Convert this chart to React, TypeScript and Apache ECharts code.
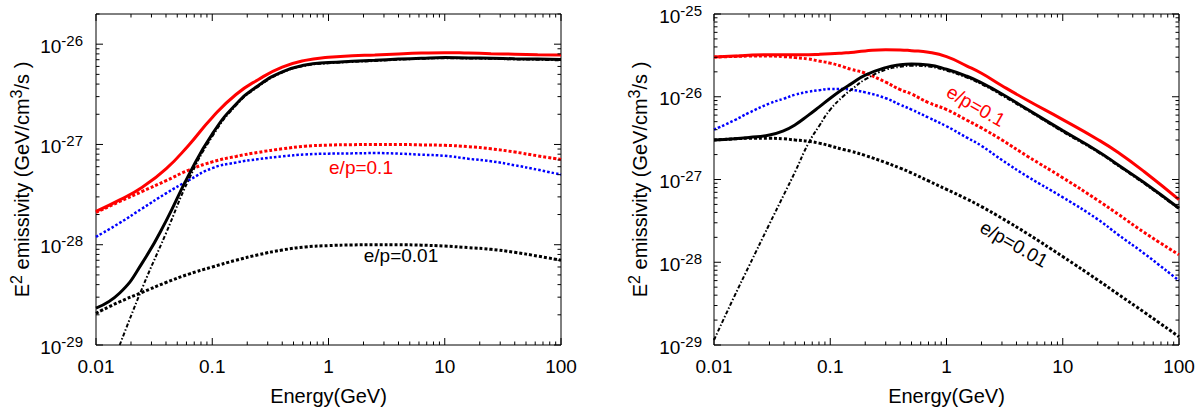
import React, { useEffect, useRef } from 'react';
import * as echarts from 'echarts';

const FONT = "'Liberation Sans', Arial, Helvetica, sans-serif";

// ---------- Tick labels ----------
const X_TICK_LABELS = ['0.01', '0.1', '1', '10', '100'];
const X_MIN = 0.01;
const X_MAX = 100;
const Y_MIN = 1e-29;
const Y_MAX_LEFT = 2e-26;
const Y_MAX_RIGHT = 1e-25;
// values are plotted in units of 1e-29 (the library rounds very small numbers)
const Y_UNIT_EXP = -29;
const Y_UNIT = 1e-29;

// ---------- Left panel data ----------
const E_L = [0.01, 0.016, 0.025, 0.04, 0.063, 0.1, 0.16, 0.25, 0.4, 0.63, 1, 1.6, 2.5, 4, 6.3, 10, 16, 25, 40, 63, 100];
const L_DOT_001 = [2.07e-29, 2.7e-29, 3.35e-29, 4.2e-29, 5.1e-29, 6.0e-29, 7.0e-29, 7.95e-29, 8.85e-29, 9.5e-29, 9.8e-29, 9.95e-29, 1.0e-28, 1.0e-28, 9.9e-29, 9.7e-29, 9.35e-29, 9.0e-29, 8.4e-29, 7.7e-29, 7.0e-29];
const L_DOT_01 = [2.1e-28, 2.7e-28, 3.4e-28, 4.35e-28, 5.55e-28, 6.7e-28, 7.6e-28, 8.35e-28, 9.05e-28, 9.6e-28, 9.85e-28, 9.95e-28, 1.0e-27, 1.0e-27, 9.9e-28, 9.8e-28, 9.5e-28, 9.05e-28, 8.4e-28, 7.7e-28, 7.1e-28];
const L_BLUE = [1.2e-28, 1.65e-28, 2.3e-28, 3.25e-28, 4.4e-28, 5.8e-28, 6.6e-28, 7.15e-28, 7.6e-28, 7.95e-28, 8.1e-28, 8.15e-28, 8.2e-28, 8.1e-28, 7.9e-28, 7.7e-28, 7.2e-28, 6.8e-28, 6.2e-28, 5.6e-28, 5.0e-28];
const E_L_PION = [0.016, 0.025, 0.04, 0.063, 0.1, 0.16, 0.25, 0.4, 0.63, 1, 1.6, 2.5, 4, 6.3, 10, 16, 25, 40, 63, 100];
const L_PION = [1.0e-29, 3.7e-29, 1.3e-28, 4.5e-28, 1.2e-27, 2.45e-27, 3.8e-27, 5.2e-27, 6.1e-27, 6.45e-27, 6.65e-27, 6.8e-27, 7.0e-27, 7.15e-27, 7.25e-27, 7.2e-27, 7.15e-27, 7.05e-27, 7.0e-27, 6.9e-27];
const L_TOT_001 = [2.33e-29, 3.3e-29, 6.6e-29, 1.72e-28, 5.0e-28, 1.27e-27, 2.52e-27, 3.88e-27, 5.3e-27, 6.2e-27, 6.55e-27, 6.75e-27, 6.9e-27, 7.1e-27, 7.25e-27, 7.35e-27, 7.3e-27, 7.25e-27, 7.15e-27, 7.1e-27, 7.05e-27];
const L_TOT_01 = [2.15e-28, 2.8e-28, 3.75e-28, 5.7e-28, 9.9e-28, 1.86e-27, 3.15e-27, 4.45e-27, 5.9e-27, 6.9e-27, 7.4e-27, 7.65e-27, 7.8e-27, 8.0e-27, 8.15e-27, 8.23e-27, 8.15e-27, 8.05e-27, 7.95e-27, 7.85e-27, 7.8e-27];

// ---------- Right panel data ----------
const E_R = [0.01, 0.015, 0.02, 0.03, 0.04, 0.05, 0.065, 0.08, 0.1, 0.13, 0.15, 0.2, 0.3, 0.4, 0.5, 0.7, 1, 1.5, 2, 3, 5, 10, 20, 30, 50, 100];
const R_DOT_001 = [3.0e-27, 3.1e-27, 3.15e-27, 3.15e-27, 3.1e-27, 3.0e-27, 2.9e-27, 2.75e-27, 2.55e-27, 2.3e-27, 2.2e-27, 1.95e-27, 1.6e-27, 1.37e-27, 1.2e-27, 9.6e-28, 7.6e-28, 5.8e-28, 4.7e-28, 3.4e-28, 2.2e-28, 1.17e-28, 6.1e-29, 4.1e-29, 2.5e-29, 1.26e-29];
const R_DOT_01 = [3.02e-26, 3.07e-26, 3.1e-26, 3.1e-26, 3.05e-26, 2.97e-26, 2.86e-26, 2.7e-26, 2.55e-26, 2.3e-26, 2.15e-26, 1.93e-26, 1.5e-26, 1.22e-26, 1.08e-26, 8.5e-27, 7.0e-27, 5.2e-27, 4.2e-27, 3.0e-27, 1.9e-27, 1.05e-27, 5.6e-28, 3.8e-28, 2.3e-28, 1.23e-28];
const R_BLUE = [4.0e-27, 5.2e-27, 6.4e-27, 8.3e-27, 9.5e-27, 1.06e-26, 1.15e-26, 1.2e-26, 1.24e-26, 1.24e-26, 1.22e-26, 1.13e-26, 9.6e-27, 8.0e-27, 7.0e-27, 5.6e-27, 4.4e-27, 3.2e-27, 2.55e-27, 1.72e-27, 1.08e-27, 6.1e-28, 3.3e-28, 2.15e-28, 1.28e-28, 6.0e-29];
const R_PION = [1.15e-29, 3.9e-29, 9.0e-29, 2.9e-28, 6.6e-28, 1.25e-27, 2.75e-27, 4.4e-27, 7.0e-27, 1.02e-26, 1.2e-26, 1.62e-26, 2.12e-26, 2.3e-26, 2.37e-26, 2.32e-26, 2.07e-26, 1.7e-26, 1.42e-26, 1.04e-26, 6.8e-27, 3.78e-27, 2.14e-27, 1.46e-27, 8.95e-28, 4.4e-28];
const R_TOT_001 = [3.0e-27, 3.1e-27, 3.22e-27, 3.45e-27, 3.9e-27, 4.6e-27, 6.0e-27, 7.5e-27, 9.6e-27, 1.25e-26, 1.42e-26, 1.82e-26, 2.25e-26, 2.43e-26, 2.48e-26, 2.42e-26, 2.15e-26, 1.77e-26, 1.47e-26, 1.08e-26, 7.0e-27, 3.9e-27, 2.2e-27, 1.5e-27, 9.2e-28, 4.5e-28];
const R_TOT_01 = [3.02e-26, 3.1e-26, 3.18e-26, 3.22e-26, 3.22e-26, 3.22e-26, 3.22e-26, 3.25e-26, 3.3e-26, 3.38e-26, 3.43e-26, 3.58e-26, 3.7e-26, 3.68e-26, 3.6e-26, 3.45e-26, 3.05e-26, 2.35e-26, 1.92e-26, 1.36e-26, 9.0e-27, 5.3e-27, 3.05e-27, 2.12e-27, 1.25e-27, 5.7e-28];

// ---------- Annotations ----------
const LABEL_01 = 'e/p=0.1';
const LABEL_001 = 'e/p=0.01';

const RED = '#ff0000';
const BLUE = '#0000ff';
const BLACK = '#000000';

function decadeTicks(lo: number, hi: number, maxV: number): [number, boolean][] {
  const res: [number, boolean][] = [];
  for (let d = lo; d <= hi; d++) {
    for (let k = 1; k <= 9; k++) {
      const v = k * Math.pow(10, d);
      if (v > maxV * 1.0001) break;
      res.push([v, k === 1]);
    }
  }
  return res;
}

const X_TICKS = decadeTicks(-2, 2, X_MAX);
// y ticks in plotting units (multiples of 1e-29)
const Y_TICKS_L = decadeTicks(0, 3, Y_MAX_LEFT / Y_UNIT);
const Y_TICKS_R = decadeTicks(0, 4, Y_MAX_RIGHT / Y_UNIT);

const supRich = (base: number, sup: number, pad: number) => ({
  b: { fontSize: base, fontFamily: FONT, color: '#000', verticalAlign: 'bottom' },
  s: { fontSize: sup, fontFamily: FONT, color: '#000', verticalAlign: 'bottom', padding: [0, 0, pad, 0] },
});

const xLabelFormatter = (v: number) => {
  const e = Math.log10(v);
  const r = Math.round(e);
  if (Math.abs(e - r) > 1e-6) return '';
  return `{t|${X_TICK_LABELS[r + 2] ?? ''}}`;
};

const yLabelFormatter = (v: number) => {
  const e = Math.log10(v);
  const r = Math.round(e);
  if (Math.abs(e - r) > 1e-6) return '';
  return `{b|10}{s|${r + Y_UNIT_EXP}}`;
};

function makeXAxis(gi: number) {
  return {
    type: 'log',
    logBase: 10,
    gridIndex: gi,
    min: X_MIN,
    max: X_MAX,
    axisLine: { show: false },
    axisTick: { show: false },
    splitLine: { show: false },
    axisLabel: {
      formatter: xLabelFormatter,
      fontSize: 19,
      fontFamily: FONT,
      color: '#000',
      margin: 11.5,
      showMinLabel: true,
      showMaxLabel: true,
      rich: { t: { fontSize: 19, fontFamily: FONT, color: '#000' } },
    },
    name: 'Energy(GeV)',
    nameLocation: 'middle',
    nameGap: 41,
    nameTextStyle: { fontSize: 20, fontFamily: FONT, color: '#000' },
  };
}

function makeYAxis(gi: number, max: number, margin: number) {
  return {
    type: 'log',
    logBase: 10,
    gridIndex: gi,
    min: Y_MIN / Y_UNIT,
    max: max / Y_UNIT,
    axisLine: { show: false },
    axisTick: { show: false },
    splitLine: { show: false },
    axisLabel: {
      formatter: yLabelFormatter,
      margin,
      fontSize: 19,
      showMinLabel: true,
      showMaxLabel: true,
      rich: supRich(19, 15, 8),
    },
    name: '{b|E}{s|2}{b| emissivity (GeV/cm}{s|3}{b|/s )}',
    nameLocation: 'middle',
    nameGap: 64,
    nameTextStyle: { rich: supRich(20, 16, 8) },
  };
}

function lineSeries(gi: number, xs: number[], ys: number[], color: string, width: number, type: any, z: number) {
  return {
    type: 'line',
    xAxisIndex: gi,
    yAxisIndex: gi,
    data: xs.map((x, i) => [x, ys[i] / Y_UNIT]),
    showSymbol: false,
    symbol: 'none',
    smooth: 0.5,
    clip: true,
    silent: true,
    lineStyle: { color, width, type, cap: 'butt' },
    z,
  };
}

function tickSeries(gi: number, yTicks: [number, boolean][], yRef: number) {
  return {
    type: 'custom',
    coordinateSystem: 'cartesian2d',
    xAxisIndex: gi,
    yAxisIndex: gi,
    data: [[1, yRef]],
    silent: true,
    z: 20,
    renderItem: (params: any, api: any) => {
      const cs = params.coordSys;
      const x0 = cs.x;
      const x1 = cs.x + cs.width;
      const y0 = cs.y;
      const y1 = cs.y + cs.height;
      const st = { stroke: '#000', lineWidth: 1 };
      const children: any[] = [];
      for (const [v, major] of X_TICKS) {
        const p = api.coord([v, yRef])[0];
        const len = major ? 7 : 3.5;
        children.push({ type: 'line', shape: { x1: p, y1: y1, x2: p, y2: y1 - len }, style: st });
        children.push({ type: 'line', shape: { x1: p, y1: y0, x2: p, y2: y0 + len }, style: st });
      }
      for (const [v, major] of yTicks) {
        const p = api.coord([1, v])[1];
        const len = major ? 7 : 3.5;
        children.push({ type: 'line', shape: { x1: x0, y1: p, x2: x0 + len, y2: p }, style: st });
        children.push({ type: 'line', shape: { x1: x1, y1: p, x2: x1 - len, y2: p }, style: st });
      }
      return { type: 'group', children };
    },
  };
}

const DOT = [3, 2];
const DOT_BLUE = [2.5, 2];
const DASHDOT = [4, 2, 1.5, 2];

function panelSeries(gi: number, d: any) {
  return [
    lineSeries(gi, d.e, d.dot001, BLACK, 3, DOT, 2),
    lineSeries(gi, d.e, d.blue, BLUE, 2.5, DOT_BLUE, 3),
    lineSeries(gi, d.e, d.dot01, RED, 3, DOT, 4),
    lineSeries(gi, d.ePion, d.pion, BLACK, 2, DASHDOT, 5),
    lineSeries(gi, d.e, d.tot001, BLACK, 3, 'solid', 6),
    lineSeries(gi, d.e, d.tot01, RED, 3, 'solid', 7),
  ];
}

function textEl(x: number, y: number, text: string, fill: string, size: number, rotation = 0) {
  return {
    type: 'text',
    x,
    y,
    rotation,
    silent: true,
    z: 30,
    style: { text, fill, fontSize: size, fontFamily: FONT, align: 'center', verticalAlign: 'middle' },
  };
}

export default function App() {
  const ref = useRef<HTMLDivElement>(null);
  useEffect(() => {
    if (!ref.current) return;
    const chart = echarts.init(ref.current, undefined, { renderer: 'svg' });
    const gridBase = {
      top: 14,
      width: 465,
      height: 331,
      show: true,
      borderColor: '#000',
      borderWidth: 1,
      backgroundColor: 'transparent',
      containLabel: false,
      outerBoundsMode: 'none',
    };
    const option: any = {
      animation: false,
      backgroundColor: '#ffffff',
      grid: [
        { ...gridBase, left: 96 },
        { ...gridBase, left: 714 },
      ],
      xAxis: [makeXAxis(0), makeXAxis(1)],
      yAxis: [makeYAxis(0, Y_MAX_LEFT, 13), makeYAxis(1, Y_MAX_RIGHT, 12)],
      series: [
        ...panelSeries(0, { e: E_L, ePion: E_L_PION, dot001: L_DOT_001, dot01: L_DOT_01, blue: L_BLUE, pion: L_PION, tot001: L_TOT_001, tot01: L_TOT_01 }),
        ...panelSeries(1, { e: E_R, ePion: E_R, dot001: R_DOT_001, dot01: R_DOT_01, blue: R_BLUE, pion: R_PION, tot001: R_TOT_001, tot01: R_TOT_01 }),
        tickSeries(0, Y_TICKS_L, 10),
        tickSeries(1, Y_TICKS_R, 100),
      ],
      graphic: [
        textEl(361, 167, LABEL_01, RED, 19),
        textEl(401, 255, LABEL_001, BLACK, 19),
        textEl(976, 106, LABEL_01, RED, 19, -0.52),
        textEl(1014, 244, LABEL_001, BLACK, 19, -0.52),
      ],
    };
    chart.setOption(option);
    return () => chart.dispose();
  }, []);
  return (
    <div
      ref={ref}
      style={{ position: 'fixed', left: 0, top: 0, width: 1200, height: 408, background: '#fff' }}
    />
  );
}
